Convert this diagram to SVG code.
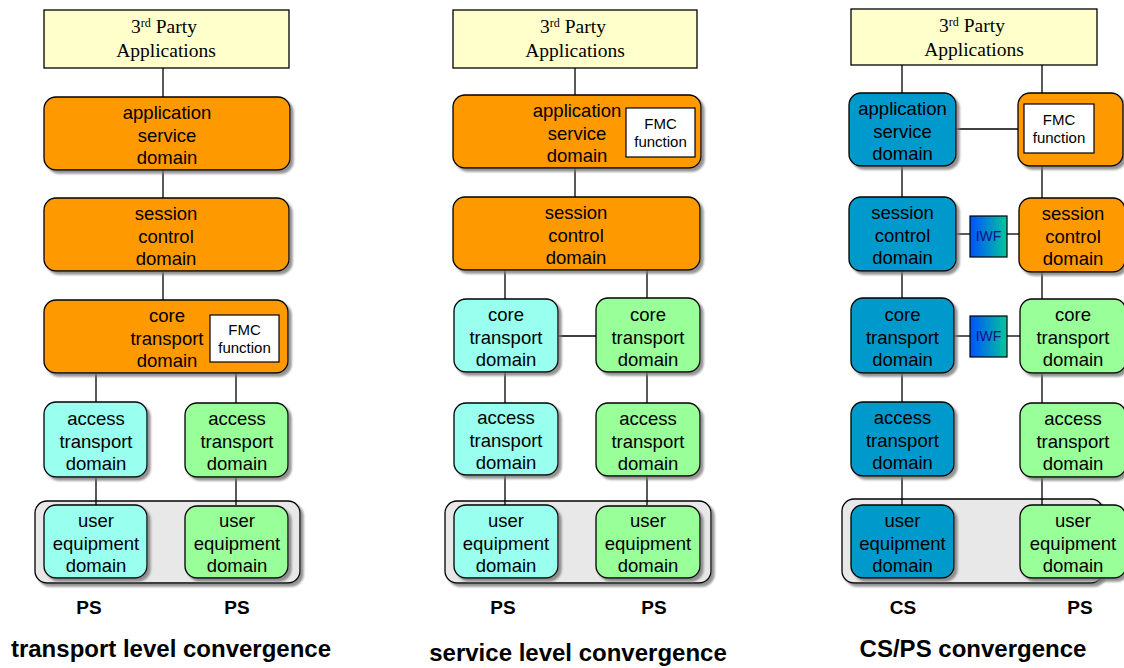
<svg xmlns="http://www.w3.org/2000/svg" width="1124" height="668" viewBox="0 0 1124 668">
  <defs>
    <filter id="shadow" x="-10%" y="-10%" width="130%" height="130%">
      <feDropShadow dx="3" dy="3" stdDeviation="1" flood-color="#777" flood-opacity="0.8"/>
    </filter>
    <linearGradient id="iwfGrad" x1="0" y1="0" x2="1" y2="0">
      <stop offset="0" stop-color="#0050ff"/>
      <stop offset="1" stop-color="#00c89a"/>
    </linearGradient>
    <style>
      .dom { stroke: #000; stroke-width: 1.3; filter: url(#shadow); }
      .orange { fill: #ff9900; }
      .cyan { fill: #99ffee; }
      .green { fill: #99ff99; }
      .blue { fill: #0099cc; }
      .party { fill: #ffffcc; stroke: #000; stroke-width: 1.3; }
      .tray { fill: #e8e8e8; stroke: #000; stroke-width: 1.3; filter: url(#shadow); }
      .fmc { fill: #fff; stroke: #000; stroke-width: 1.2; }
      .iwf { fill: url(#iwfGrad); stroke: #000; stroke-width: 1.2; }
      .lbl { font-family: "Liberation Sans", Arial, sans-serif; font-size: 18.5px; fill: #000; text-anchor: middle; }
      .small { font-family: "Liberation Sans", Arial, sans-serif; font-size: 15px; fill: #000; text-anchor: middle; }
      .iwft { font-family: "Liberation Sans", Arial, sans-serif; font-size: 14px; fill: #10108a; text-anchor: middle; }
      .serif { font-family: "Liberation Serif", "Times New Roman", serif; font-size: 19.5px; fill: #000; text-anchor: middle; }
      .sup { font-size: 12px; }
      .tag { font-family: "Liberation Sans", Arial, sans-serif; font-size: 19px; font-weight: bold; fill: #000; text-anchor: middle; }
      .title { font-family: "Liberation Sans", Arial, sans-serif; font-size: 24px; font-weight: bold; fill: #000; text-anchor: middle; }
      .wire { stroke: #000; stroke-width: 1.3; fill: none; }
    </style>
  </defs>

  <!-- user equipment trays (drawn first, behind everything) -->
  <g id="tray-1"><rect class="tray" x="35" y="501" width="265" height="82" rx="12"/></g>
  <g id="tray-2"><rect class="tray" x="445" y="501" width="266" height="82" rx="12"/></g>
  <g id="tray-3"><rect class="tray" x="842" y="499" width="261" height="84" rx="12"/></g>

  <!-- connectors -->
  <g id="connectors">
    <!-- transport level convergence -->
    <line class="wire" x1="163" y1="68" x2="163" y2="97"/>
    <line class="wire" x1="163" y1="170" x2="163" y2="198"/>
    <line class="wire" x1="163" y1="272" x2="163" y2="300"/>
    <line class="wire" x1="96" y1="373" x2="96" y2="402"/>
    <line class="wire" x1="96" y1="477" x2="96" y2="505"/>
    <line class="wire" x1="236" y1="373" x2="236" y2="403"/>
    <line class="wire" x1="236" y1="477" x2="236" y2="505"/>
    <!-- service level convergence -->
    <line class="wire" x1="575" y1="68" x2="575" y2="95"/>
    <line class="wire" x1="575" y1="168" x2="575" y2="197"/>
    <line class="wire" x1="505" y1="270" x2="505" y2="299"/>
    <line class="wire" x1="647" y1="270" x2="647" y2="298"/>
    <line class="wire" x1="558" y1="336" x2="596" y2="336"/>
    <line class="wire" x1="505" y1="372" x2="505" y2="403"/>
    <line class="wire" x1="647" y1="372" x2="647" y2="403"/>
    <line class="wire" x1="505" y1="475" x2="505" y2="505"/>
    <line class="wire" x1="647" y1="475" x2="647" y2="505"/>
    <!-- CS/PS convergence -->
    <line class="wire" x1="902" y1="65" x2="902" y2="93"/>
    <line class="wire" x1="1042" y1="65" x2="1042" y2="93"/>
    <line class="wire" x1="956" y1="129" x2="1018" y2="129"/>
    <line class="wire" x1="902" y1="166" x2="902" y2="197"/>
    <line class="wire" x1="1042" y1="166" x2="1042" y2="198"/>
    <line class="wire" x1="956" y1="234" x2="970" y2="234"/>
    <line class="wire" x1="1007" y1="234" x2="1019" y2="234"/>
    <line class="wire" x1="902" y1="271" x2="902" y2="298"/>
    <line class="wire" x1="1042" y1="272" x2="1042" y2="299"/>
    <line class="wire" x1="954" y1="336" x2="970" y2="336"/>
    <line class="wire" x1="1007" y1="336" x2="1020" y2="336"/>
    <line class="wire" x1="902" y1="373" x2="902" y2="402"/>
    <line class="wire" x1="1042" y1="373" x2="1042" y2="403"/>
    <line class="wire" x1="902" y1="476" x2="902" y2="505"/>
    <line class="wire" x1="1042" y1="477" x2="1042" y2="505"/>
  </g>

  <!-- ===== transport level convergence ===== -->
  <g id="t-party">
    <rect class="party" x="44" y="10" width="245" height="58"/>
    <text class="serif" x="164" y="33">3<tspan class="sup" dy="-6">rd</tspan><tspan dy="6"> Party</tspan></text>
    <text class="serif" x="166" y="57">Applications</text>
  </g>
  <g id="t-app">
    <rect class="dom orange" x="44" y="97" width="246" height="73" rx="12"/>
    <text class="lbl" x="167" y="119">application</text>
    <text class="lbl" x="167" y="141.5">service</text>
    <text class="lbl" x="167" y="164">domain</text>
  </g>
  <g id="t-session">
    <rect class="dom orange" x="44" y="198" width="245" height="73" rx="12"/>
    <text class="lbl" x="166" y="220">session</text>
    <text class="lbl" x="166" y="242.5">control</text>
    <text class="lbl" x="166" y="265">domain</text>
  </g>
  <g id="t-core">
    <rect class="dom orange" x="44" y="300" width="244" height="73" rx="12"/>
    <text class="lbl" x="167" y="322">core</text>
    <text class="lbl" x="167" y="344.5">transport</text>
    <text class="lbl" x="167" y="367">domain</text>
    <rect class="fmc" x="210" y="315" width="69" height="47"/>
    <text class="small" x="244.5" y="335">FMC</text>
    <text class="small" x="244.5" y="352.5">function</text>
  </g>
  <g id="t-access-l">
    <rect class="dom cyan" x="44" y="402" width="103" height="75" rx="12"/>
    <text class="lbl" x="96" y="425">access</text>
    <text class="lbl" x="96" y="447.5">transport</text>
    <text class="lbl" x="96" y="470">domain</text>
  </g>
  <g id="t-access-r">
    <rect class="dom green" x="185" y="403" width="103" height="74" rx="12"/>
    <text class="lbl" x="237" y="425">access</text>
    <text class="lbl" x="237" y="447.5">transport</text>
    <text class="lbl" x="237" y="470">domain</text>
  </g>
  <g id="t-ue-l">
    <rect class="dom cyan" x="44" y="505" width="103" height="73" rx="12"/>
    <text class="lbl" x="96" y="527">user</text>
    <text class="lbl" x="96" y="549.5">equipment</text>
    <text class="lbl" x="96" y="572">domain</text>
  </g>
  <g id="t-ue-r">
    <rect class="dom green" x="185" y="506" width="103" height="72" rx="12"/>
    <text class="lbl" x="237" y="527">user</text>
    <text class="lbl" x="237" y="549.5">equipment</text>
    <text class="lbl" x="237" y="572">domain</text>
  </g>

  <!-- ===== service level convergence ===== -->
  <g id="s-party">
    <rect class="party" x="453" y="10" width="244" height="58"/>
    <text class="serif" x="573" y="33">3<tspan class="sup" dy="-6">rd</tspan><tspan dy="6"> Party</tspan></text>
    <text class="serif" x="575" y="57">Applications</text>
  </g>
  <g id="s-app">
    <rect class="dom orange" x="453" y="95" width="248" height="73" rx="12"/>
    <text class="lbl" x="577" y="117">application</text>
    <text class="lbl" x="577" y="139.5">service</text>
    <text class="lbl" x="577" y="162">domain</text>
    <rect class="fmc" x="626" y="108" width="69" height="49"/>
    <text class="small" x="660.5" y="129">FMC</text>
    <text class="small" x="660.5" y="146.5">function</text>
  </g>
  <g id="s-session">
    <rect class="dom orange" x="453" y="197" width="247" height="73" rx="12"/>
    <text class="lbl" x="576" y="219">session</text>
    <text class="lbl" x="576" y="241.5">control</text>
    <text class="lbl" x="576" y="264">domain</text>
  </g>
  <g id="s-core-l">
    <rect class="dom cyan" x="454" y="299" width="104" height="73" rx="12"/>
    <text class="lbl" x="506" y="321">core</text>
    <text class="lbl" x="506" y="343.5">transport</text>
    <text class="lbl" x="506" y="366">domain</text>
  </g>
  <g id="s-core-r">
    <rect class="dom green" x="596" y="298" width="104" height="74" rx="12"/>
    <text class="lbl" x="648" y="321">core</text>
    <text class="lbl" x="648" y="343.5">transport</text>
    <text class="lbl" x="648" y="366">domain</text>
  </g>
  <g id="s-access-l">
    <rect class="dom cyan" x="454" y="403" width="104" height="72" rx="12"/>
    <text class="lbl" x="506" y="424">access</text>
    <text class="lbl" x="506" y="446.5">transport</text>
    <text class="lbl" x="506" y="469">domain</text>
  </g>
  <g id="s-access-r">
    <rect class="dom green" x="596" y="403" width="104" height="73" rx="12"/>
    <text class="lbl" x="648" y="425">access</text>
    <text class="lbl" x="648" y="447.5">transport</text>
    <text class="lbl" x="648" y="470">domain</text>
  </g>
  <g id="s-ue-l">
    <rect class="dom cyan" x="454" y="505" width="104" height="73" rx="12"/>
    <text class="lbl" x="506" y="527">user</text>
    <text class="lbl" x="506" y="549.5">equipment</text>
    <text class="lbl" x="506" y="572">domain</text>
  </g>
  <g id="s-ue-r">
    <rect class="dom green" x="596" y="506" width="104" height="72" rx="12"/>
    <text class="lbl" x="648" y="527">user</text>
    <text class="lbl" x="648" y="549.5">equipment</text>
    <text class="lbl" x="648" y="572">domain</text>
  </g>

  <!-- ===== CS/PS convergence ===== -->
  <g id="c-party">
    <rect class="party" x="851" y="9" width="246" height="56"/>
    <text class="serif" x="972" y="32">3<tspan class="sup" dy="-6">rd</tspan><tspan dy="6"> Party</tspan></text>
    <text class="serif" x="974" y="56">Applications</text>
  </g>
  <g id="c-app-cs">
    <rect class="dom blue" x="849" y="93" width="107" height="73" rx="12"/>
    <text class="lbl" x="902.5" y="115">application</text>
    <text class="lbl" x="902.5" y="137.5">service</text>
    <text class="lbl" x="902.5" y="160">domain</text>
  </g>
  <g id="c-app-ps">
    <rect class="dom orange" x="1018" y="93" width="105" height="73" rx="12"/>
    <rect class="fmc" x="1024" y="104" width="70" height="49"/>
    <text class="small" x="1059" y="125">FMC</text>
    <text class="small" x="1059" y="142.5">function</text>
  </g>
  <g id="c-session-cs">
    <rect class="dom blue" x="849" y="197" width="107" height="74" rx="12"/>
    <text class="lbl" x="902.5" y="219">session</text>
    <text class="lbl" x="902.5" y="241.5">control</text>
    <text class="lbl" x="902.5" y="264">domain</text>
  </g>
  <g id="c-iwf-1">
    <rect class="iwf" x="970" y="216" width="37" height="41"/>
    <text class="iwft" x="988.5" y="241">IWF</text>
  </g>
  <g id="c-session-ps">
    <rect class="dom orange" x="1019" y="198" width="106" height="74" rx="12"/>
    <text class="lbl" x="1073" y="220">session</text>
    <text class="lbl" x="1073" y="242.5">control</text>
    <text class="lbl" x="1073" y="265">domain</text>
  </g>
  <g id="c-core-cs">
    <rect class="dom blue" x="851" y="298" width="103" height="75" rx="12"/>
    <text class="lbl" x="902.5" y="321">core</text>
    <text class="lbl" x="902.5" y="343.5">transport</text>
    <text class="lbl" x="902.5" y="366">domain</text>
  </g>
  <g id="c-iwf-2">
    <rect class="iwf" x="970" y="316" width="37" height="41"/>
    <text class="iwft" x="988.5" y="341">IWF</text>
  </g>
  <g id="c-core-ps">
    <rect class="dom green" x="1020" y="299" width="106" height="74" rx="12"/>
    <text class="lbl" x="1073" y="321">core</text>
    <text class="lbl" x="1073" y="343.5">transport</text>
    <text class="lbl" x="1073" y="366">domain</text>
  </g>
  <g id="c-access-cs">
    <rect class="dom blue" x="851" y="402" width="103" height="74" rx="12"/>
    <text class="lbl" x="902.5" y="424">access</text>
    <text class="lbl" x="902.5" y="446.5">transport</text>
    <text class="lbl" x="902.5" y="469">domain</text>
  </g>
  <g id="c-access-ps">
    <rect class="dom green" x="1020" y="403" width="106" height="74" rx="12"/>
    <text class="lbl" x="1073" y="425">access</text>
    <text class="lbl" x="1073" y="447.5">transport</text>
    <text class="lbl" x="1073" y="470">domain</text>
  </g>
  <g id="c-ue-cs">
    <rect class="dom blue" x="851" y="505" width="103" height="73" rx="12"/>
    <text class="lbl" x="902.5" y="527">user</text>
    <text class="lbl" x="902.5" y="549.5">equipment</text>
    <text class="lbl" x="902.5" y="572">domain</text>
  </g>
  <g id="c-ue-ps">
    <rect class="dom green" x="1020" y="505" width="106" height="73" rx="12"/>
    <text class="lbl" x="1073" y="527">user</text>
    <text class="lbl" x="1073" y="549.5">equipment</text>
    <text class="lbl" x="1073" y="572">domain</text>
  </g>

  <!-- domain type tags and column titles -->
  <g id="tags">
    <text class="tag" x="89" y="614">PS</text>
    <text class="tag" x="237" y="614">PS</text>
    <text class="tag" x="503" y="614">PS</text>
    <text class="tag" x="654" y="614">PS</text>
    <text class="tag" x="903" y="614">CS</text>
    <text class="tag" x="1080" y="614">PS</text>
  </g>
  <g id="titles">
    <text class="title" x="171" y="657">transport level convergence</text>
    <text class="title" x="578" y="661">service level convergence</text>
    <text class="title" x="973" y="657">CS/PS convergence</text>
  </g>
</svg>
